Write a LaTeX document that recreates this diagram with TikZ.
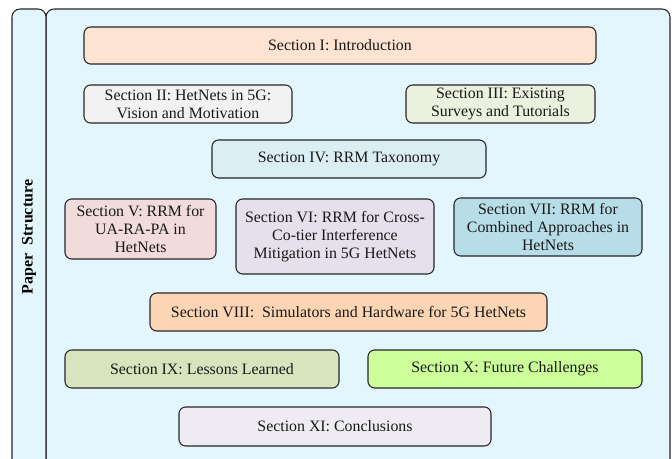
\documentclass[tikz,border=0pt]{standalone}
\usepackage{fontspec}
\setmainfont{Liberation Serif}

\definecolor{panelbg}{HTML}{E3F6FD}
\definecolor{introfill}{HTML}{FDE4D2}
\definecolor{visionfill}{HTML}{F2F2F2}
\definecolor{surveyfill}{HTML}{EBF1DE}
\definecolor{taxofill}{HTML}{DBEEF3}
\definecolor{uafill}{HTML}{F2DCDB}
\definecolor{imfill}{HTML}{E5E0EC}
\definecolor{combfill}{HTML}{B7DEE8}
\definecolor{simfill}{HTML}{FCD5B5}
\definecolor{lessonfill}{HTML}{D7E4BD}
\definecolor{futurefill}{HTML}{CCFF99}
\definecolor{conclfill}{HTML}{EEECF2}

\tikzset{
  secbox/.style={draw=black!85, line width=0.8pt, rounded corners=5pt,
    align=center, inner sep=0pt, text=black!90,
    font=\fontsize{11.9}{13.5}\selectfont},
  panel/.style={draw=black!85, line width=0.8pt, rounded corners=6pt, fill=panelbg}
}

\begin{document}
\begin{tikzpicture}[x=0.75pt,y=-0.75pt]
  \useasboundingbox (0,0) rectangle (672,459);

  % Outer panels
  \draw[panel] (46,9) rectangle (670,490);
  \draw[panel] (12,9) rectangle (46,490);
  \node[rotate=90, font=\fontsize{12}{14}\selectfont\bfseries] (title) at (29,237) {Paper\ \ Structure};

  % Sections
  \node[secbox, fill=introfill, minimum width=384pt, minimum height=27.75pt] (intro) at (340,45.5) {Section I: Introduction};
  \node[secbox, fill=visionfill, minimum width=156pt, minimum height=28.5pt] (vision) at (188,104) {Section II: HetNets in 5G:\\Vision and Motivation};
  \node[secbox, fill=surveyfill, minimum width=141.75pt, minimum height=28.5pt] (survey) at (500.5,104) {Section III: Existing\\Surveys and Tutorials};
  \node[secbox, fill=taxofill, minimum width=205.5pt, minimum height=28.5pt] (taxo) at (349,159) {Section IV: RRM Taxonomy};

  \node[secbox, fill=uafill, minimum width=113.25pt, minimum height=45pt] (uarapa) at (140.5,229) {Section V: RRM for\\UA-RA-PA in\\HetNets};
  \node[secbox, fill=imfill, minimum width=148.5pt, minimum height=56.25pt] (interf) at (335,236.5) {Section VI: RRM for Cross-\\Co-tier Interference\\Mitigation in 5G HetNets};
  \node[secbox, fill=combfill, minimum width=141pt, minimum height=43.5pt] (combined) at (548,227) {Section VII: RRM for\\Combined Approaches in\\HetNets};

  \node[secbox, fill=simfill, minimum width=297.75pt, minimum height=28.5pt] (simul) at (348.5,312) {Section VIII:\ \ Simulators and Hardware for 5G HetNets};
  \node[secbox, fill=lessonfill, minimum width=205.5pt, minimum height=28.5pt] (lessons) at (202,369) {Section IX: Lessons Learned};
  \node[secbox, fill=futurefill, minimum width=205.5pt, minimum height=28.5pt] (future) at (505,369) {Section X: Future Challenges};
  \node[secbox, fill=conclfill, minimum width=234pt, minimum height=29.25pt] (concl) at (335,426.5) {Section XI: Conclusions};

\end{tikzpicture}
\end{document}
